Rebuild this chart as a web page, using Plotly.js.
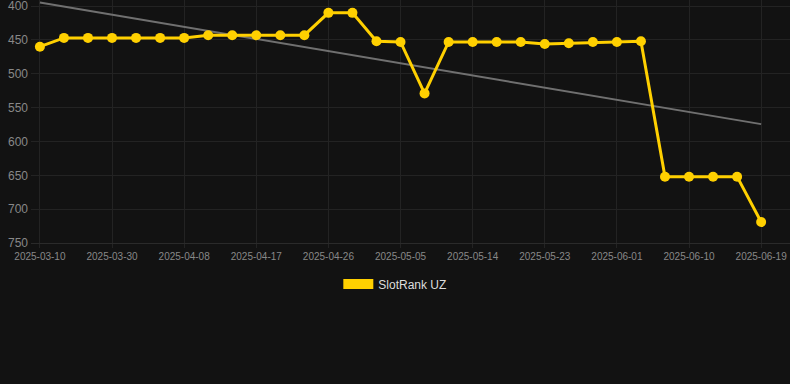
<!DOCTYPE html>
<html>
<head>
<meta charset="utf-8">
<script src="https://cdn.plot.ly/plotly-3.0.1.min.js"></script>
<style>
html,body{margin:0;padding:0;background:#121212;}
#chart{width:790px;height:384px;}
</style>
</head>
<body>
<div id="chart"></div>
<script>
const dates = [
  '2025-03-10','2025-03-20','2025-03-27','2025-03-30','2025-04-02','2025-04-05',
  '2025-04-08','2025-04-11','2025-04-14','2025-04-17','2025-04-20','2025-04-23',
  '2025-04-26','2025-04-29','2025-05-02','2025-05-05','2025-05-08','2025-05-11',
  '2025-05-14','2025-05-17','2025-05-20','2025-05-23','2025-05-26','2025-05-29',
  '2025-06-01','2025-06-04','2025-06-07','2025-06-10','2025-06-13','2025-06-16',
  '2025-06-19'
];
const ranks = [
  460, 447, 447, 447, 447, 447,
  447, 443, 443, 443, 443, 443,
  410, 410, 452, 453, 529, 453,
  453, 453, 453, 456, 455, 453,
  453, 452, 652, 652, 652, 652,
  719
];
const seriesName = 'SlotRank UZ';
const yTicks = [400, 450, 500, 550, 600, 650, 700, 750];

// linear trend of the series (least squares)
const n = ranks.length;
const idx = ranks.map((_, i) => i);
const mx = idx.reduce((a, b) => a + b, 0) / n;
const my = ranks.reduce((a, b) => a + b, 0) / n;
let sxy = 0, sxx = 0;
idx.forEach(i => { sxy += (i - mx) * (ranks[i] - my); sxx += (i - mx) * (i - mx); });
const slope = sxy / sxx;
const trend = idx.map(i => my + slope * (i - mx));

const tickDates = dates.filter((_, i) => i % 3 === 0);

const gold = '#FFD000';
const traces = [
  {
    x: dates, y: trend, type: 'scatter', mode: 'lines',
    line: {color: '#707070', width: 2}, showlegend: false, hoverinfo: 'skip'
  },
  {
    x: dates, y: ranks, type: 'scatter', mode: 'lines+markers',
    line: {color: gold, width: 3}, marker: {color: gold, size: 10},
    name: seriesName, showlegend: false
  },
  {
    x: [null], y: [null], type: 'scatter', mode: 'lines',
    line: {color: gold, width: 12}, name: seriesName, showlegend: true
  }
];

const layout = {
  width: 790, height: 384,
  paper_bgcolor: '#121212', plot_bgcolor: '#121212',
  margin: {l: 31, r: 0, t: 0, b: 141},
  font: {family: 'Liberation Sans, Arial, sans-serif', color: '#888'},
  xaxis: {
    type: 'category',
    range: [-0.37, 31.2],
    tickmode: 'array', tickvals: tickDates, ticktext: tickDates,
    tickfont: {size: 10, color: '#888'},
    showgrid: true, gridcolor: '#232323', gridwidth: 1,
    ticks: 'outside', ticklen: 4, tickcolor: '#232323',
    showline: true, linecolor: '#2a2a2a', linewidth: 1,
    zeroline: false, fixedrange: true
  },
  yaxis: {
    range: [750, 391],
    tickmode: 'array', tickvals: yTicks,
    tickfont: {size: 12, color: '#888'},
    showgrid: true, gridcolor: '#232323', gridwidth: 1,
    zeroline: false, showline: false, ticks: '', ticklabelstandoff: 2,
    ticklabeloverflow: 'allow',
    fixedrange: true
  },
  showlegend: true,
  legend: {
    orientation: 'h', x: 0.48, xanchor: 'center', y: -0.109, yanchor: 'top',
    font: {size: 12, color: '#dddddd'}, bgcolor: 'rgba(0,0,0,0)'
  },
  hovermode: false
};

Plotly.newPlot('chart', traces, layout, {displayModeBar: false, staticPlot: true});
</script>
</body>
</html>
